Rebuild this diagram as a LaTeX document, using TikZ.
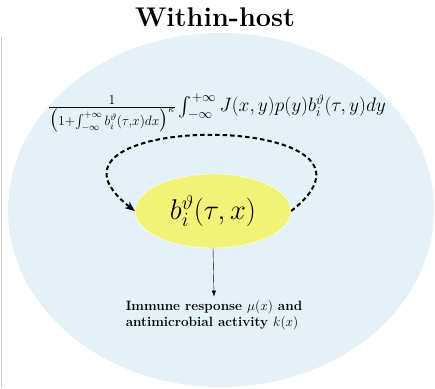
\documentclass[tikz,border=0pt]{standalone}
\usepackage{fix-cm}
\usepackage{amsmath,amssymb}
\usepackage{tikz}
\usetikzlibrary{arrows.meta,shapes.geometric}
\definecolor{hostblue}{RGB}{228,241,247}
\definecolor{strainyellow}{RGB}{242,242,120}

\begin{document}
\begin{tikzpicture}[x=1pt,y=-1pt,
  host/.style={ellipse, fill=hostblue, minimum width=426pt, minimum height=354pt},
  strain/.style={ellipse, fill=strainyellow, draw=white, thin, minimum width=156pt, minimum height=74pt, inner sep=0pt},
  loop/.style={line width=2pt, dash pattern=on 4.5pt off 3pt, -{Stealth[length=10pt,width=8pt]}}]
\useasboundingbox (0,0) rectangle (435,388);

% Host and panel edge
\draw[black!20] (1,37) -- (1,388);
\node[host] (host) at (221,210) {};

% Title
\node[font=\fontsize{27}{32}\selectfont\bfseries] (title) at (215,17) {Within-host};

% Bacteria in the host
\node[strain, font=\fontsize{28.5}{34}\selectfont] (strain) at (213,211) {$b_i^{\vartheta}(\tau,x)$};

% Mutation kernel
\node[font=\fontsize{19.4}{23}\selectfont] (kernel) at (217,113)
  {$\frac{1}{\big(1+\int_{-\infty}^{+\infty} b_i^{\vartheta}(\tau,x)dx\big)^{\kappa}}\int_{-\infty}^{+\infty} J(x,y)p(y)b_i^{\vartheta}(\tau,y)dy$};
\draw[loop] (strain.east) .. controls (420,110) and (6,110) .. (strain.west);

% Immune response
\node[align=left, font=\fontsize{13.5}{16}\selectfont\bfseries] (immune) at (214,315)
  {Immune response $\mu(x)$ and\\antimicrobial activity $k(x)$};
\draw[-{Latex[length=6pt,width=4pt]}] (strain.south) -- (immune.north);
\end{tikzpicture}
\end{document}
